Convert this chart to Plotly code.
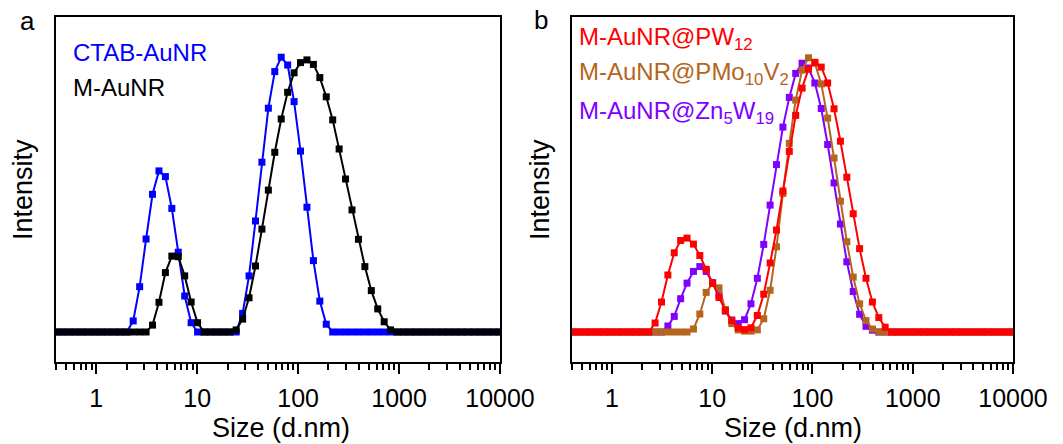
import math
import plotly.graph_objects as go

# ---------------- data ----------------
sizes = [0.4, 0.4632, 0.5365, 0.6213, 0.7195, 0.8332, 0.9649, 1.117, 1.294, 1.499,
         1.736, 2.010, 2.328, 2.696, 3.122, 3.615, 4.187, 4.849, 5.615, 6.503,
         7.531, 8.721, 10.10, 11.70, 13.54, 15.69, 18.17, 21.04, 24.36, 28.21,
         32.67, 37.84, 43.82, 50.75, 58.77, 68.06, 78.82, 91.28, 105.7, 122.4,
         141.8, 164.2, 190.1, 220.2, 255.0, 295.3, 342.0, 396.1, 458.7, 531.2,
         615.1, 712.4, 825.0, 955.4, 1106, 1281, 1484, 1718, 1990, 2305,
         2669, 3091, 3580, 4145, 4801, 5560, 6439, 7456, 8635, 10000]

ctab_aunr = [0, 0, 0, 0, 0, 0, 0, 0, 0, 0,
             0, 0, 3.7, 15.1, 31.0, 45.9, 53.7, 51.8, 41.2, 26.6,
             12.0, 3.1, 0, 0, 0, 0, 0, 0, 0, 6.2,
             18.7, 37.0, 56.6, 74.6, 86.8, 91.6, 89.0, 76.8, 60.3, 41.6,
             23.8, 10.3, 2.6, 0, 0, 0, 0, 0, 0, 0,
             0, 0, 0, 0, 0, 0, 0, 0, 0, 0,
             0, 0, 0, 0, 0, 0, 0, 0, 0, 0]

m_aunr = [0, 0, 0, 0, 0, 0, 0, 0, 0, 0,
          0, 0, 0, 0, 0, 2.3, 9.9, 19.8, 25.3, 25.1,
          18.7, 10.0, 3.1, 0, 0, 0, 0, 0, 0.7, 4.3,
          11.4, 22.0, 34.3, 47.3, 59.9, 71.0, 79.9, 86.4, 89.8, 90.7,
          89.2, 84.8, 78.4, 70.7, 61.0, 51.0, 40.7, 30.9, 21.8, 13.8,
          7.7, 3.4, 0.7, 0, 0, 0, 0, 0, 0, 0,
          0, 0, 0, 0, 0, 0, 0, 0, 0, 0]

m_aunr_pw12 = [0, 0, 0, 0, 0, 0, 0, 0, 0, 0,
               0, 0, 0, 3.0, 10.0, 19.0, 26.4, 30.5, 31.3, 29.3,
               25.5, 20.9, 16.2, 11.5, 7.1, 3.8, 1.4, 0.8, 1.4, 5.5,
               12.6, 23.0, 34.0, 47.0, 60.2, 72.2, 81.3, 87.6, 89.9, 88.3,
               83.0, 74.4, 63.6, 51.6, 39.4, 27.8, 17.9, 10.0, 4.8, 1.6,
               0, 0, 0, 0, 0, 0, 0, 0, 0, 0,
               0, 0, 0, 0, 0, 0, 0, 0, 0, 0]

m_aunr_pmo10v2 = [0, 0, 0, 0, 0, 0, 0, 0, 0, 0,
                  0, 0, 0, 0, 0, 0, 0, 0, 0, 1.0,
                  6.0, 13.2, 16.3, 14.7, 7.5, 2.8, 0.7, 0.3, 0.3, 0.7,
                  4.4, 13.9, 28.4, 46.2, 62.9, 77.3, 87.3, 91.4, 89.6, 82.7,
                  71.3, 58.0, 43.6, 30.1, 18.3, 9.4, 3.8, 1.0, 0, 0,
                  0, 0, 0, 0, 0, 0, 0, 0, 0, 0,
                  0, 0, 0, 0, 0, 0, 0, 0, 0, 0]

m_aunr_zn5w19 = [0, 0, 0, 0, 0, 0, 0, 0, 0, 0,
                 0, 0, 0, 0, 0, 2.0, 5.2, 11.1, 16.3, 20.2,
                 21.8, 20.2, 16.5, 12.3, 7.0, 4.0, 2.8, 4.1, 9.4, 17.9,
                 29.2, 42.3, 55.8, 68.3, 78.2, 86.2, 89.6, 88.0, 83.0, 74.5,
                 62.5, 49.7, 36.0, 23.4, 13.5, 5.9, 1.9, 0.6, 0, 0,
                 0, 0, 0, 0, 0, 0, 0, 0, 0, 0,
                 0, 0, 0, 0, 0, 0, 0, 0, 0, 0]

tick_vals = [1, 10, 100, 1000, 10000]
tick_text = ["1", "10", "100", "1000", "10000"]
minor_vals = [m * 10 ** e for e in range(-1, 4) for m in range(2, 10) if m * 10 ** e >= 0.4]

BLUE = "#0000FF"
BLACK = "#000000"
RED = "#FF0000"
BROWN = "#B5651D"
PURPLE = "#8000FF"
FONT = "Arial, Liberation Sans, sans-serif"

W, H = 1063, 444


def px(x):
    return x / W


def py(y):
    return 1 - y / H


fig = go.Figure()


def add(y, color, xa, ya):
    fig.add_trace(go.Scatter(
        x=sizes, y=y, mode="lines+markers", xaxis=xa, yaxis=ya,
        line=dict(color=color, width=2),
        marker=dict(symbol="square", size=7, color=color, line=dict(width=0)),
        showlegend=False, hoverinfo="skip"))


add(ctab_aunr, BLUE, "x", "y")
add(m_aunr, BLACK, "x", "y")
add(m_aunr_zn5w19, PURPLE, "x2", "y2")
add(m_aunr_pmo10v2, BROWN, "x2", "y2")
add(m_aunr_pw12, RED, "x2", "y2")


def xaxis_cfg(domain, anchor):
    return dict(
        domain=domain, anchor=anchor, type="log", range=[math.log10(0.4), 4],
        tickmode="array", tickvals=tick_vals, ticktext=tick_text,
        ticks="outside", ticklen=10, tickwidth=2, tickcolor="black",
        ticklabelstandoff=3,
        showline=True, linewidth=2, linecolor="black", mirror=True,
        showgrid=False, zeroline=False, automargin=False,
        tickfont=dict(family=FONT, size=25, color="black"),
        minor=dict(tickmode="array", tickvals=minor_vals, ticks="outside",
                   ticklen=6, tickwidth=2, tickcolor="black", showgrid=False),
    )


def yaxis_cfg(anchor):
    return dict(
        domain=[1 - 362 / H, 1 - 17 / H], anchor=anchor, range=[-10, 105],
        showticklabels=False, ticks="", showline=True, linewidth=2,
        linecolor="black", mirror=True, showgrid=False, zeroline=False,
        automargin=False,
    )


annotations = []


def ann(text, x, y, size, color="black", xanchor="center", yanchor="middle", angle=0):
    annotations.append(dict(
        text=text, x=px(x), y=py(y), xref="paper", yref="paper",
        xanchor=xanchor, yanchor=yanchor, showarrow=False, textangle=angle,
        font=dict(family=FONT, size=size, color=color)))


ann("a", 27.5, 21, 26)
ann("b", 541, 20, 26)
ann("Intensity", 23, 190, 27, angle=-90)
ann("Intensity", 540, 190, 27, angle=-90)
ann("Size (d.nm)", 281, 428, 27)
ann("Size (d.nm)", 792.5, 428, 27)
ann("CTAB-AuNR", 71, 52, 24, BLUE, xanchor="left")
ann("M-AuNR", 71, 88, 24, BLACK, xanchor="left")
ann("M-AuNR@PW<sub>12</sub>", 577, 39, 24, RED, xanchor="left")
ann("M-AuNR@PMo<sub>10</sub>V<sub>2</sub>", 577, 74, 24, BROWN, xanchor="left")
ann("M-AuNR@Zn<sub>5</sub>W<sub>19</sub>", 577, 113, 24, PURPLE, xanchor="left")

fig.update_layout(
    width=W, height=H, margin=dict(l=0, r=0, t=0, b=0),
    paper_bgcolor="white", plot_bgcolor="white",
    xaxis=xaxis_cfg([56 / W, 500 / W], "y"),
    yaxis=yaxis_cfg("x"),
    xaxis2=xaxis_cfg([572 / W, 1013 / W], "y2"),
    yaxis2=yaxis_cfg("x2"),
    annotations=annotations,
    showlegend=False,
)

fig.write_html("out.html")
